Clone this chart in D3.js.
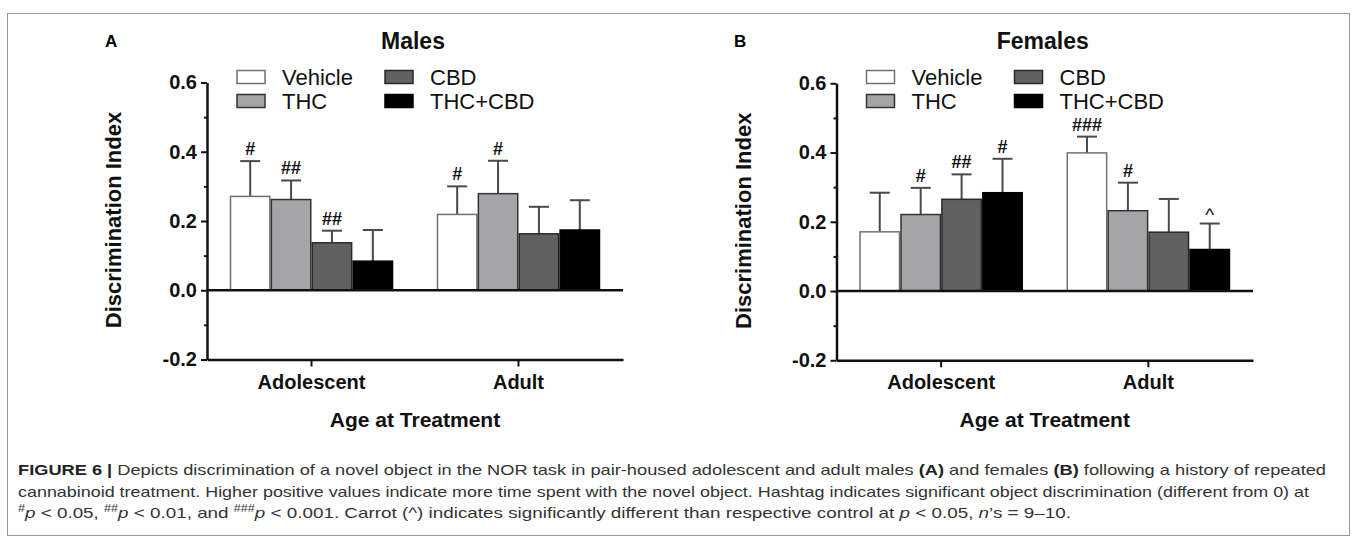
<!DOCTYPE html>
<html>
<head>
<meta charset="utf-8">
<script src="https://cdn.jsdelivr.net/npm/d3@7"></script>
<style>
  body { margin: 0; background: #fff; }
  svg { display: block; }
  text { font-family: "Liberation Sans", Arial, sans-serif; }
</style>
</head>
<body>
<div id="fig"></div>
<script>
const categories = ["Adolescent", "Adult"];
const groups = ["Vehicle", "THC", "CBD", "THC+CBD"];

// means and SEM, [category][group]
const malesMean = [[0.271, 0.262, 0.137, 0.084], [0.219, 0.279, 0.163, 0.174]];
const malesSem = [[0.102, 0.055, 0.035, 0.090], [0.081, 0.095, 0.078, 0.086]];
const malesMarks = [["#", "##", "##", ""], ["#", "#", "", ""]];

const femalesMean = [[0.171, 0.221, 0.265, 0.284], [0.399, 0.232, 0.170, 0.120]];
const femalesSem = [[0.113, 0.077, 0.072, 0.098], [0.047, 0.081, 0.096, 0.075]];
const femalesMarks = [["", "#", "##", "#"], ["###", "#", "", "^"]];

const majorTicks = [-0.2, 0.0, 0.2, 0.4, 0.6];
const minorTicks = [-0.1, 0.1, 0.3, 0.5];

const fills = ["#ffffff", "#a5a4a9", "#616161", "#000000"];
const strokes = ["#707070", "#333333", "#2a2a2a", "#000000"];

const svg = d3.select('#fig')
  .append('svg')
  .attr('width', 1357)
  .attr('height', 544);

// frame round the figure
svg.append("rect")
  .attr("x", 7.5).attr("y", 13.5)
  .attr("width", 1342).attr("height", 522)
  .attr("fill", "none")
  .attr("stroke", "#9a9a9a")
  .attr("stroke-width", 1);

function drawPanel(p) {
  const g = svg.append("g");
  const y = d3.scaleLinear().domain([-0.2, 0.6]).range([p.bottom, p.top]);
  const x = d3.scaleBand().domain(categories).range([p.left, p.right])
    .paddingInner(0.21).paddingOuter(0.11);
  const xi = d3.scaleBand().domain(groups).range([0, x.bandwidth()]);

  // bars
  categories.forEach(function(cat, ci) {
    groups.forEach(function(grp, gi) {
      const m = p.mean[ci][gi];
      const top = m + p.sem[ci][gi];
      const bx = x(cat) + xi(grp);
      const cx = bx + xi.bandwidth() / 2;

      g.append("line")
        .attr("x1", cx).attr("x2", cx)
        .attr("y1", y(m)).attr("y2", y(top))
        .attr("stroke", "#4a4a4a").attr("stroke-width", 2);
      g.append("line")
        .attr("x1", cx - 10).attr("x2", cx + 10)
        .attr("y1", y(top)).attr("y2", y(top))
        .attr("stroke", "#4a4a4a").attr("stroke-width", 2);

      g.append("rect")
        .attr("x", bx + 0.75)
        .attr("y", y(m))
        .attr("width", xi.bandwidth() - 1.5)
        .attr("height", y(0) - y(m))
        .attr("fill", fills[gi])
        .attr("stroke", strokes[gi])
        .attr("stroke-width", 1.5);

      const mark = p.marks[ci][gi];
      if (mark) {
        g.append("text")
          .attr("x", cx)
          .attr("y", y(top) - (mark === "^" ? 3 : 6))
          .attr("text-anchor", "middle")
          .attr("font-size", mark === "^" ? "19px" : "18px")
          .attr("font-weight", mark === "^" ? "normal" : "bold")
          .attr("fill", "#111")
          .text(mark);
      }
    });
  });

  // zero line
  g.append("line")
    .attr("x1", p.left).attr("x2", p.right)
    .attr("y1", y(0)).attr("y2", y(0))
    .attr("stroke", "#111").attr("stroke-width", 2.5);

  // y axis
  const ya = g.append("g")
    .attr("transform", `translate(${p.left},0)`)
    .call(d3.axisLeft(y).tickValues(majorTicks).tickSize(6).tickSizeOuter(0)
      .tickPadding(4).tickFormat(d => d.toFixed(1)));
  ya.select(".domain").attr("stroke", "#111").attr("stroke-width", 2.5);
  ya.selectAll(".tick line").attr("stroke", "#111").attr("stroke-width", 2);
  ya.selectAll(".tick text")
    .attr("font-family", "Liberation Sans, Arial, sans-serif")
    .attr("font-size", "20px").attr("font-weight", "bold").attr("fill", "#111");

  const ym = g.append("g")
    .attr("transform", `translate(${p.left},0)`)
    .call(d3.axisLeft(y).tickValues(minorTicks).tickSize(3).tickSizeOuter(0).tickFormat(""));
  ym.select(".domain").remove();
  ym.selectAll(".tick line").attr("stroke", "#111").attr("stroke-width", 2);

  // x axis at -0.2
  const xa = g.append("g")
    .attr("transform", `translate(0,${y(-0.2)})`)
    .call(d3.axisBottom(x).tickSize(7).tickSizeOuter(0).tickPadding(8));
  xa.select(".domain").attr("stroke", "#111").attr("stroke-width", 2.5);
  xa.selectAll(".tick line").attr("stroke", "#111").attr("stroke-width", 2);
  xa.selectAll(".tick text")
    .attr("font-family", "Liberation Sans, Arial, sans-serif")
    .attr("font-size", "20px").attr("font-weight", "bold").attr("fill", "#111");

  const mid = (p.left + p.right) / 2;

  g.append("text")
    .attr("x", mid).attr("y", 427)
    .attr("text-anchor", "middle")
    .attr("font-size", "21px").attr("font-weight", "bold").attr("fill", "#111")
    .text("Age at Treatment");

  g.append("text")
    .attr("transform", `translate(${p.left - 86},${(y(-0.2) + y(0.6)) / 2 - 1}) rotate(-90)`)
    .attr("text-anchor", "middle")
    .attr("font-size", "22px").attr("font-weight", "bold").attr("fill", "#111")
    .text("Discrimination Index");

  g.append("text")
    .attr("x", mid - 2).attr("y", 49)
    .attr("text-anchor", "middle")
    .attr("font-size", "23px").attr("font-weight", "bold").attr("fill", "#111")
    .text(p.title);

  g.append("text")
    .attr("x", p.letterX).attr("y", 47)
    .attr("font-size", "17px").attr("font-weight", "bold").attr("fill", "#000")
    .text(p.letter);

  // legend, two columns
  groups.forEach(function(grp, gi) {
    const lx = p.left + 30 + Math.floor(gi / 2) * 148;
    const ly = 77 + (gi % 2) * 24;
    g.append("rect")
      .attr("x", lx).attr("y", ly - 6.5)
      .attr("width", 28).attr("height", 13)
      .attr("fill", fills[gi])
      .attr("stroke", strokes[gi])
      .attr("stroke-width", 1.5);
    g.append("text")
      .attr("x", lx + 45).attr("y", ly + 7.5)
      .attr("font-size", "22px").attr("fill", "#111")
      .text(grp);
  });
}

drawPanel({
  left: 207, right: 623, top: 82.5, bottom: 359.5,
  mean: malesMean, sem: malesSem, marks: malesMarks,
  title: "Males", letter: "A", letterX: 105
});

drawPanel({
  left: 836.5, right: 1253, top: 83.3, bottom: 360.3,
  mean: femalesMean, sem: femalesSem, marks: femalesMarks,
  title: "Females", letter: "B", letterX: 734
});

// caption
const cap = svg.append("g")
  .attr("font-family", "Liberation Sans Narrow, Liberation Sans, Arial, sans-serif")
  .attr("font-size", "15px")
  .attr("fill", "#333");

const l1 = cap.append("text").attr("x", 18).attr("y", 475)
  .attr("textLength", 1308).attr("lengthAdjust", "spacingAndGlyphs");
l1.append("tspan").attr("font-weight", "bold").attr("fill", "#222").text("FIGURE 6 | ");
l1.append("tspan").text("Depicts discrimination of a novel object in the NOR task in pair-housed adolescent and adult males ");
l1.append("tspan").attr("font-weight", "bold").attr("fill", "#222").text("(A)");
l1.append("tspan").text(" and females ");
l1.append("tspan").attr("font-weight", "bold").attr("fill", "#222").text("(B)");
l1.append("tspan").text(" following a history of repeated");

cap.append("text").attr("x", 18).attr("y", 497)
  .attr("textLength", 1291).attr("lengthAdjust", "spacingAndGlyphs")
  .text("cannabinoid treatment. Higher positive values indicate more time spent with the novel object. Hashtag indicates significant object discrimination (different from 0) at");

const l3 = cap.append("text").attr("x", 18).attr("y", 518)
  .attr("textLength", 1053).attr("lengthAdjust", "spacingAndGlyphs");
function sup(t, s) {
  t.append("tspan").attr("font-size", "10px").attr("dy", -6).text(s);
  t.append("tspan").attr("font-style", "italic").attr("dy", 6).text("p");
}
sup(l3, "#");
l3.append("tspan").text(" < 0.05, ");
sup(l3, "##");
l3.append("tspan").text(" < 0.01, and ");
sup(l3, "###");
l3.append("tspan").text(" < 0.001. Carrot (^) indicates significantly different than respective control at ");
l3.append("tspan").attr("font-style", "italic").text("p");
l3.append("tspan").text(" < 0.05, ");
l3.append("tspan").attr("font-style", "italic").text("n");
l3.append("tspan").text("’s = 9–10.");
</script>
</body>
</html>
